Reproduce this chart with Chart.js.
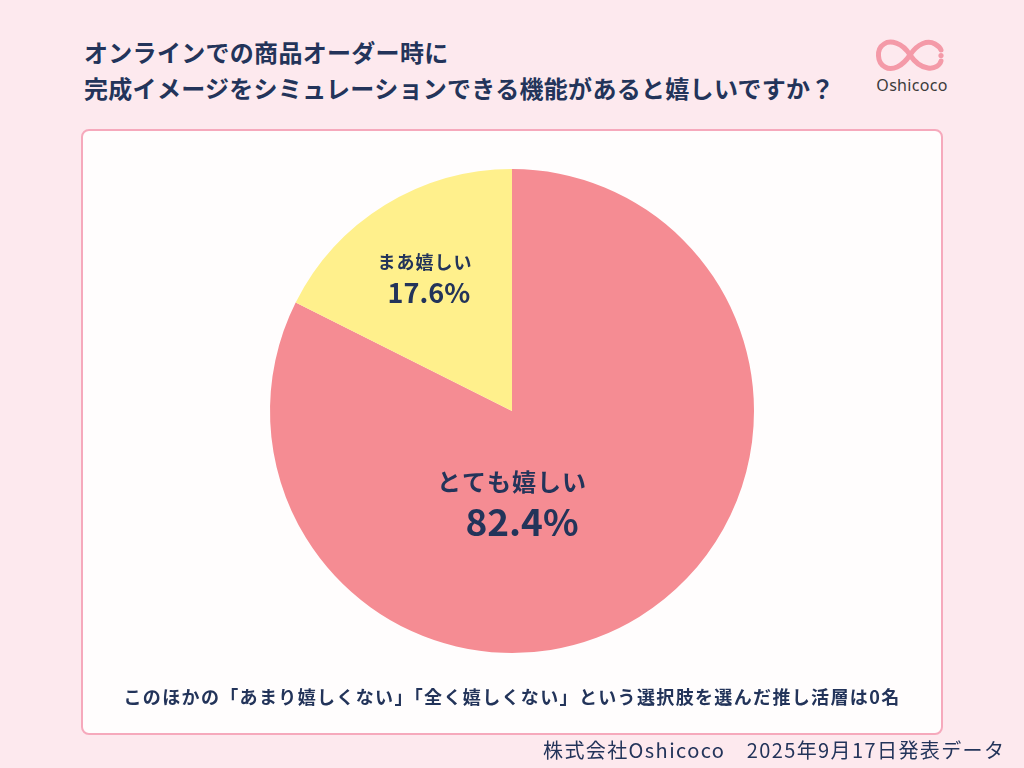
<!DOCTYPE html>
<html lang="ja">
<head>
<meta charset="utf-8">
<script src="https://cdn.jsdelivr.net/npm/chart.js@4.4.0/dist/chart.umd.min.js"></script>
<style>
  html, body { margin: 0; padding: 0; }
  body {
    width: 1024px; height: 768px; position: relative; overflow: hidden;
    background: #fde9ee;
    font-family: "Noto Sans CJK JP", "Noto Sans", sans-serif;
    color: #23345a;
  }
  .title {
    position: absolute; left: 84px; top: 34px;
    font-size: 24px; font-weight: 700; line-height: 36px; letter-spacing: 0.3px;
  }
  .panel {
    position: absolute; left: 81px; top: 129px; width: 858px; height: 602px;
    background: #fffdfd; border: 2px solid #f6a9bc; border-radius: 8px;
  }
  .note {
    position: absolute; left: 0; width: 1024px; top: 683px; text-align: center;
    font-size: 18px; font-weight: 700; letter-spacing: 1.35px;
  }
  .footer {
    position: absolute; left: 543px; top: 735px;
    font-size: 20px; letter-spacing: 1.4px;
  }
  .logo { position: absolute; left: 872px; top: 36px; width: 80px; height: 60px; }
  .logo span {
    position: absolute; left: 0; width: 80px; top: 38px; text-align: center;
    font-family: "Noto Sans", sans-serif; font-size: 16px; color: #3b3b3b; letter-spacing: 0.3px;
  }
  canvas { position: absolute; left: 0; top: 0; }
</style>
</head>
<body>
<div class="title">オンラインでの商品オーダー時に<br>完成イメージをシミュレーションできる機能があると嬉しいですか？</div>
<div class="logo">
  <svg width="80" height="40" viewBox="0 0 80 40">
    <path d="M38 19 C30 6 18 4 12 8 C4 13 5 27 13 31 C20 35 30 31 38 19 C46 7 56 4 63 8 C68 11 69 14 69 14 M69 25 C68 29 63 33 56 32 C48 31 42 25 38 19"
      fill="none" stroke="#f49aa8" stroke-width="5" stroke-linecap="round"/>
    <circle cx="69" cy="19.5" r="2.6" fill="#f49aa8"/>
  </svg>
  <span>Oshicoco</span>
</div>
<div class="panel"></div>
<canvas id="pie" width="1024" height="768"></canvas>
<div class="note">このほかの「あまり嬉しくない」「全く嬉しくない」という選択肢を選んだ推し活層は0名</div>
<div class="footer">株式会社Oshicoco　2025年9月17日発表データ</div>

<script>
const labels = ['とても嬉しい', 'まあ嬉しい'];
const values = [82.4, 17.6];
const colors = ['#f58c93', '#fff08c'];

// label placement relative to pie centre (fraction of radius), font sizes, percent offset (px)
const labelPos = [[0.0, 0.293], [-0.36, -0.616]];
const labelFont = [[24, 37], [18, 27]];
const pctOffset = [[10, 40], [4, 31]];

const sliceLabels = {
  id: 'sliceLabels',
  afterDatasetsDraw(chart) {
    const ctx = chart.ctx;
    const arc = chart.getDatasetMeta(0).data[0];
    const cx = arc.x, cy = arc.y, r = arc.outerRadius;
    ctx.save();
    ctx.fillStyle = '#23345a';
    ctx.textAlign = 'center';
    ctx.textBaseline = 'middle';
    labels.forEach((lab, i) => {
      const x = cx + labelPos[i][0] * r;
      const y = cy + labelPos[i][1] * r;
      ctx.font = '700 ' + labelFont[i][0] + 'px "Noto Sans CJK JP"';
      ctx.letterSpacing = '1px';
      ctx.fillText(lab, x, y);
      ctx.font = '700 ' + labelFont[i][1] + 'px "Noto Sans CJK JP"';
      ctx.letterSpacing = '0px';
      ctx.fillText(values[i].toFixed(1) + '%', x + pctOffset[i][0], y + pctOffset[i][1]);
    });
    ctx.restore();
  }
};

new Chart(document.getElementById('pie'), {
  type: 'pie',
  data: {
    labels: labels,
    datasets: [{ data: values, backgroundColor: colors, borderWidth: 0 }]
  },
  options: {
    responsive: false,
    animation: false,
    layout: { padding: { top: 169, bottom: 115, left: 270, right: 270 } },
    plugins: { legend: { display: false }, tooltip: { enabled: false } }
  },
  plugins: [sliceLabels]
});
</script>
</body>
</html>
